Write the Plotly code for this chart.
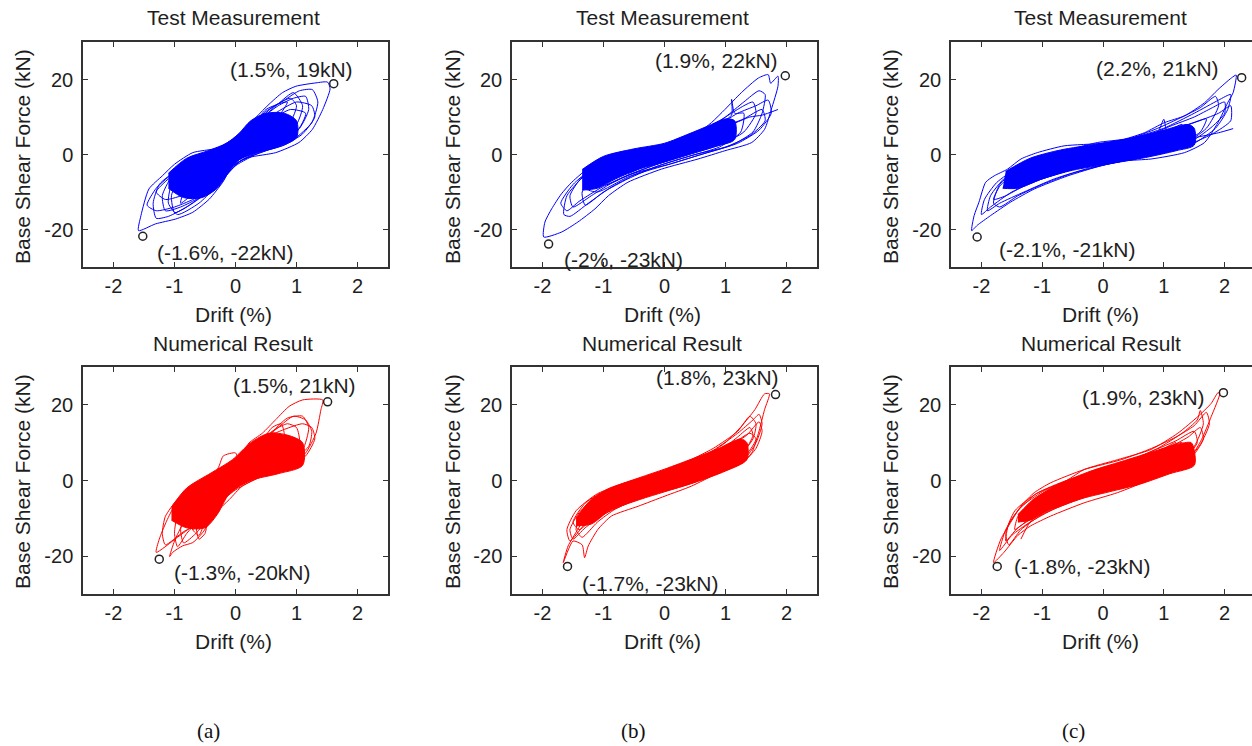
import plotly.graph_objects as go

W, H = 1252, 746

# ------------------------------------------------------------------ data
# Hysteresis paths (drift %, base shear kN)
a_test_path = [(0,0),(0.25,3.5),(0.45,6.5),(0.35,3),(0.1,-0.5),(-0.2,-3.5),(-0.45,-7),(-0.35,-3),(-0.1,0.5),
    (0.2,4),(0.55,9),(0.7,10.5),(0.55,5),(0.2,0.5),(-0.15,-3),(-0.5,-8),(-0.8,-11),(-0.7,-6),(-0.4,-1.5),(-0.05,2),
    (0.3,8),(0.6,12.5),(0.9,15),(1.0,13),(0.85,7),(0.5,2),(0.1,-1.5),(-0.25,-6),(-0.55,-11),(-0.85,-14.5),(-1.0,-15.5),(-1.05,-11),(-0.9,-5.5),(-0.6,-1),(-0.2,2.5),
    (0.11,5.8),(0.33,9.8),(0.55,13.4),(0.77,16.5),(0.99,18.2),(1.32,19.1),(1.51,19.3),(1.55,17.5),(1.43,12),(1.26,6.7),(1.04,3.2),(0.66,0.5),(0.22,-0.8),(-0.05,-3),(-0.21,-7.4),(-0.43,-11.9),(-0.7,-15.4),(-0.98,-17.2),(-1.31,-18.5),(-1.59,-20.3),(-1.55,-16.3),(-1.42,-9.2),(-1.2,-5.7),(-1.0,-2.6),(-0.7,0.5),(-0.32,1.6),(-0.1,3.2),
    (0.2,7),(0.5,11.5),(0.8,14.5),(1.05,17),(1.26,17.3),(1.35,14),(1.25,8.5),(0.95,4),(0.5,1),(0.1,-1.5),(-0.15,-5.5),(-0.45,-10),(-0.75,-13.5),(-1.1,-16.5),(-1.3,-17),(-1.35,-13),(-1.25,-8),(-0.95,-4),(-0.6,-0.5),(-0.2,2),
    (0.15,6),(0.45,10),(0.7,13),(0.95,15),(1.15,15.5),(1.2,12),(1.05,7),(0.7,3),(0.3,0),(0,-2.5),(-0.3,-7),(-0.6,-11.5),(-0.9,-14),(-1.15,-15),(-1.2,-11),(-1.05,-6),(-0.75,-2),(-0.4,0.5),(0,1),
    (0.3,6),(0.6,9.5),(0.85,10.5),(0.8,6),(0.5,2),(0.1,-1),(-0.3,-6),(-0.6,-10),(-0.75,-9),(-0.6,-4),(-0.2,0),(0,0)]
a_test_extra = [(0,0),(0.4,9),(0.7,13.5),(0.95,16.5),(1.1,13),(1.0,8),(0.7,4),(0.3,1),(-0.05,-2),(-0.35,-9),(-0.6,-13),(-0.95,-16),(-1.1,-13),(-1.05,-8),(-0.8,-3),(-0.4,0.5),(0,2.5),
    (0.3,7),(0.65,11),(1.0,14),(1.25,13),(1.3,10),(1.1,5.5),(0.8,2.5),(0.4,0.5),(0,-3),(-0.3,-8),(-0.7,-12),(-1.0,-14),(-1.3,-15),(-1.45,-13.5),(-1.3,-9),(-1.1,-6),(-0.85,-3),(-0.5,-0.5),(-0.1,2),
    (0.25,6.5),(0.55,9),(0.9,12),(1.15,11),(1.0,6),(0.6,3),(0.2,0),(-0.1,-3),(-0.4,-7.5),(-0.8,-10.5),(-1.15,-12),(-1.3,-10),(-1.1,-6.5),(-0.7,-2),(-0.3,1),(0,1.5),
    (0.5,12),(0.85,14),(0.7,10),(0.4,5),(0.1,2),(-0.3,-3),(-0.6,-9),(-0.9,-13),(-0.8,-8),(-0.5,-3),(0,0)]
a_test_core = [(-1.1,-5),(-0.8,-1),(-0.45,1),(-0.15,3),(0.05,5.5),(0.25,9),(0.5,11),(0.8,11),(1.0,9),
    (1.0,4.5),(0.7,2),(0.35,0.5),(0.05,-1.5),(-0.1,-4.5),(-0.3,-9),(-0.55,-11.5),(-0.85,-11.5),(-1.1,-9)]

b_test_path = [(0,0),(0.3,2),(0.6,4.5),(0.45,1.5),(0.1,-1),(-0.3,-3),(-0.6,-5),(-0.45,-2),(-0.1,0.5),
    (0.3,3),(0.7,6.5),(0.95,9),(0.85,4.5),(0.4,0.5),(-0.1,-2.5),(-0.6,-5.5),(-0.95,-8),(-1.0,-5),(-0.7,-1),(-0.2,1.5),
    (0.4,4),(0.8,7.5),(1.1,10.5),(1.1,14.7),(1.15,11),(1.3,11),(1.25,6),(0.9,2),(0.4,-0.5),(-0.1,-3),(-0.6,-6.5),(-1.0,-10),(-1.3,-13.5),(-1.35,-10),(-1.1,-5),(-0.7,-1),(-0.2,1.5),
    (0.22,3.2),(0.55,5.8),(0.77,8.5),(0.99,12),(1.26,16.5),(1.54,20.4),(1.70,21.3),(1.74,19),(1.86,20.9),(1.86,18.2),(1.75,12),(1.64,6.7),(1.43,3.2),(0.99,1),(0.55,-1.2),(-0.05,-3.9),(-0.6,-7.4),(-0.92,-11),(-1.14,-14.5),(-1.42,-18),(-1.69,-20.7),(-1.98,-22),(-1.96,-18),(-1.85,-14.5),(-1.69,-10.5),(-1.52,-7.4),(-1.2,-3),(-0.87,-0.35),(-0.32,1.4),
    (0.3,3.5),(0.7,6.5),(1.0,10),(1.3,14),(1.55,17),(1.65,16),(1.6,11),(1.45,6),(1.1,2.5),(0.6,0),(0.1,-2.5),(-0.5,-5.5),(-0.9,-9),(-1.25,-13),(-1.55,-16.5),(-1.65,-16),(-1.6,-11),(-1.3,-5.5),(-0.9,-2),(-0.4,0.5),
    (0.2,2.5),(0.7,5.5),(1.1,8),(1.4,10),(1.6,10.5),(1.86,12)]
b_test_extra = [(0,0),(0.5,5),(1.0,10),(1.3,13),(1.45,14),(1.5,11),(1.3,6),(0.9,2.5),(0.4,0),(-0.2,-3),(-0.8,-7),(-1.2,-11),(-1.5,-14),(-1.55,-11),(-1.35,-6),(-0.9,-2),(-0.3,1),
    (0.3,3.5),(0.8,7),(1.2,11),(1.5,13),(1.7,14.5),(1.75,11),(1.55,6.5),(1.2,3),(0.7,0.5),(0.1,-2.5),(-0.5,-5),(-1.0,-8.5),(-1.4,-12.5),(-1.6,-15),(-1.7,-13),(-1.5,-8),(-1.2,-4),(-0.7,-0.5),(-0.1,1.5),
    (0.4,3.5),(0.9,7),(1.3,9.5),(1.6,12),(1.65,9),(1.4,5),(1.0,2),(0.5,0),(0,-2.5),(-0.6,-6),(-1.1,-10),(-1.3,-9),(-1.1,-5),(-0.6,-1),(0,1)]
b_test_core = [(-1.35,-4),(-1.0,-0.5),(-0.5,1.5),(0,3),(0.4,5.5),(0.7,7.5),(1.0,9.5),(1.15,9),
    (1.15,4),(0.8,2),(0.4,0),(0,-2),(-0.4,-3.8),(-0.8,-6.5),(-1.1,-9),(-1.35,-9.5)]

c_test_path = [(0,0),(0.4,2),(0.8,4),(0.6,1.5),(0.1,-1),(-0.4,-2.5),(-0.8,-4),(-0.6,-1.5),(-0.1,1),
    (0.4,3),(0.9,6),(1.0,9.4),(1.05,6.5),(1.3,8),(1.2,3.5),(0.7,0),(0.1,-2),(-0.5,-4),(-1.0,-6.5),(-1.3,-8),(-1.25,-4.5),(-0.9,-1),(-0.3,1.5),
    (0.4,4),(0.9,7),(1.3,10),(1.6,12.5),(1.85,15.5),(1.9,13),(1.7,7),(1.3,2.5),(0.7,-0.5),(0.1,-2.5),(-0.5,-5),(-1.0,-8),(-1.4,-11),(-1.7,-14),(-1.8,-13),(-1.7,-8),(-1.45,-4.5),(-1.1,-1.5),(-0.5,1.5),
    (-0.09,3.2),(0.35,4.1),(0.68,5.8),(1.01,8.5),(1.34,10.3),(1.67,13.8),(1.89,17.3),(2.11,20.4),(2.19,21.2),(2.14,16.5),(2.05,13.8),(1.89,8.5),(1.67,3.2),(1.34,0.5),(0.79,-1.2),(0.35,-1.7),(-0.03,-3),(-0.58,-5.7),(-1.13,-9.2),(-1.52,-12.7),(-1.85,-16.3),(-2.07,-18.9),(-2.16,-20.3),(-2.12,-16.3),(-2.04,-12.7),(-1.93,-7.4),(-1.79,-5.7),(-1.57,-3.9),(-1.35,-1.2),(-1.08,0.5),(-0.64,2.3),
    (0.0,3),(0.5,4.5),(1.0,7),(1.5,11),(1.9,14.5),(2.1,16),(2.05,12),(1.85,7),(1.5,3),(1.0,0.5),(0.4,-1.5),(-0.2,-3.5),(-0.8,-6.5),(-1.3,-10),(-1.7,-13),(-1.9,-15),(-1.85,-11),(-1.6,-6),(-1.2,-2.5),(-0.6,1),
    (0.0,2),(0.6,2.5),(1.1,3.5),(1.5,4.5),(1.9,5.8),(2.14,6.9)]
c_test_extra = [(0,0),(0.6,4),(1.1,7.5),(1.5,10),(1.8,12.5),(2.0,14),(2.0,11),(1.8,7.5),(1.5,4),(1.0,1.5),(0.3,-1.5),(-0.4,-3.5),(-1.0,-6.5),(-1.5,-10),(-1.85,-14),(-2.0,-16),(-1.95,-12),(-1.75,-7.5),(-1.4,-3.5),(-0.9,-0.5),(-0.3,1.5),
    (0.4,3.5),(1.0,6),(1.5,8.5),(1.9,11),(2.1,13),(2.1,9),(1.8,5.5),(1.3,2),(0.7,0),(0,-2),(-0.7,-4.5),(-1.2,-7.5),(-1.6,-11),(-1.8,-12),(-1.7,-8.5),(-1.5,-5.5),(-1.0,-2),(-0.4,1),
    (0.3,3),(0.9,5.5),(1.4,8),(1.7,9.5),(1.6,6),(1.2,2.5),(0.6,0),(0,-1.5),(-0.6,-4),(-1.2,-7),(-1.5,-8),(-1.3,-4.5),(-0.8,-1),(0,1)]
c_test_core = [(-1.6,-4.5),(-1.2,-1),(-0.7,1.2),(-0.1,2.8),(0.5,4.5),(1.0,6.5),(1.4,8),(1.5,7),
    (1.5,2.5),(1.2,1),(0.7,-0.8),(0.1,-2.5),(-0.5,-4.2),(-1.0,-6.5),(-1.4,-9),(-1.65,-9)]

a_num_path = [(0,0),(0.25,3.5),(0.5,6.5),(0.35,2.5),(0.05,-1),(-0.25,-4.5),(-0.45,-8),(-0.35,-4),(-0.05,0.5),
    (0.2,5),(0.5,9),(0.75,11),(0.7,6),(0.4,2),(0,-1.5),(-0.3,-6),(-0.5,-11),(-0.6,-14.5),(-0.7,-13),(-0.65,-8),(-0.45,-3),(-0.1,1.5),
    (0.2,7),(0.55,12),(0.85,16.5),(1.1,17),(1.2,14),(1.1,8),(0.8,3.5),(0.4,1),(0,-2.5),(-0.35,-7),(-0.6,-10.5),(-0.8,-14),(-0.95,-17.5),(-1.0,-14),(-0.95,-9),(-0.75,-4),(-0.4,0),(-0.27,3.8),
    (-0.2,6.5),(0.0,7.3),(0.05,5.5),(0.22,9.9),(0.44,12.5),(0.66,16.1),(0.88,19.6),(1.10,21.3),(1.43,21.3),(1.40,18.7),(1.32,12.5),(1.15,7.3),(0.88,3.8),(0.44,1.1),(0.11,-1.5),(-0.10,-5),(-0.32,-8.5),(-0.54,-13.8),(-0.70,-16.4),(-0.87,-17.3),(-1.03,-19),(-1.08,-20.1),(-1.0,-16),(-0.85,-11),(-0.6,-5),(-0.3,-1),
    (0.1,6),(0.4,10),(0.7,14),(0.95,17),(1.15,16),(1.25,13),(1.2,9),(0.9,5),(0.5,2),(0.1,-1),(-0.2,-5),(-0.45,-9),(-0.7,-12),(-0.95,-15),(-1.30,-19),(-1.25,-15.5),(-1.14,-11.1),(-1.03,-7.6),(-0.87,-5),(-0.65,-1.5),(-0.43,1.1),(-0.1,4),
    (0.2,8),(0.45,11),(0.6,14),(0.75,15),(0.8,12),(0.7,8),(0.4,3.5),(0,0),(-0.3,-4),(-0.45,-10),(-0.5,-14),(-0.6,-15.5),(-0.65,-11),(-0.55,-6),(-0.3,-1),(0,2)]
a_num_extra = [(0,0),(0.3,8),(0.6,13),(0.85,15),(1.0,14),(1.05,10),(0.85,5.5),(0.5,2.5),(0.1,0),(-0.2,-4),(-0.45,-10),(-0.65,-14),(-0.85,-16.5),(-0.9,-13),(-0.8,-8),(-0.55,-3),(-0.2,2),
    (0.15,7),(0.45,11),(0.8,13.5),(1.1,15),(1.25,14),(1.3,11),(1.15,6.5),(0.8,3),(0.3,0.5),(-0.05,-2.5),(-0.3,-7),(-0.55,-11),(-0.85,-13.5),(-1.15,-17),(-1.2,-14),(-1.15,-9.5),(-0.95,-5),(-0.6,-1),(-0.2,3),
    (0.2,8.5),(0.5,12),(0.65,12.5),(0.6,9),(0.3,4),(0,1),(-0.35,-5),(-0.55,-10),(-0.7,-13),(-0.75,-10),(-0.6,-5),(-0.3,0),(0,2)]
a_num_core = [(-1.05,-7),(-0.8,-2),(-0.4,2),(-0.05,5.5),(0.25,10),(0.55,12.5),(0.85,12),(1.1,10),
    (1.1,4),(0.7,1.8),(0.25,0),(-0.1,-3.5),(-0.3,-9),(-0.5,-12.5),(-0.8,-12.5),(-1.05,-10.5)]

b_num_path = [(0,0),(0.4,3),(0.8,6),(0.6,2.5),(0.2,-0.5),(-0.3,-3),(-0.7,-5.5),(-0.55,-2.5),(-0.1,0.5),
    (0.4,4),(0.8,7.5),(1.1,10),(1.05,6),(0.7,2.5),(0.2,-1),(-0.3,-3.5),(-0.8,-6.5),(-1.1,-9),(-1.05,-5.5),(-0.7,-1.5),(-0.2,1.5),
    (0.3,4.5),(0.8,8.5),(1.2,13),(1.4,17),(1.5,15),(1.45,11),(1.2,6),(0.8,2.5),(0.3,-1),(-0.3,-4),(-0.8,-7.5),(-1.1,-11),(-1.35,-15),(-1.45,-13),(-1.3,-7),(-1.0,-3),(-0.5,0),
    (-0.21,1.1),(0.22,3.8),(0.66,6.4),(0.99,9.9),(1.26,14.3),(1.48,18.7),(1.64,22.9),(1.72,22.9),(1.64,18.7),(1.54,12.5),(1.43,7.3),(1.26,4.6),(0.88,2),(0.44,-1.5),(0.01,-4.1),(-0.43,-6.8),(-0.87,-9.4),(-1.09,-12.9),(-1.25,-17.3),(-1.31,-20.4),(-1.35,-17),(-1.5,-16),(-1.66,-21.7),(-1.58,-17.3),(-1.42,-12.9),(-1.25,-8.5),(-0.98,-4.1),(-0.65,-1.5),(-0.21,1.1),
    (0.3,4),(0.8,8),(1.2,12.5),(1.45,16),(1.55,17.5),(1.6,15),(1.5,10),(1.3,5.5),(0.9,2.5),(0.4,-0.5),(-0.1,-3),(-0.6,-6),(-1.0,-9),(-1.3,-12.5),(-1.5,-15.5),(-1.55,-13),(-1.4,-8.5),(-1.1,-4),(-0.7,-1),(-0.2,1.5),
    (0.3,4),(0.7,6.5),(1.0,9),(1.2,11.5),(1.4,14),(1.45,12),(1.3,7.5),(1.0,4),(0.6,1),(0,-2),(-0.6,-5),(-1.0,-7.5),(-1.2,-9.5),(-1.15,-6),(-0.8,-2.5),(-0.3,0.5),(0,1)]
b_num_extra = [(0,0),(0.5,4.5),(1.0,8.5),(1.35,12),(1.55,15.5),(1.6,13),(1.5,8.5),(1.3,5),(0.9,2),(0.3,-1.5),(-0.3,-4),(-0.9,-7.5),(-1.3,-11.5),(-1.55,-16),(-1.6,-13),(-1.45,-8),(-1.1,-3.5),(-0.5,0),
    (0.2,2.5),(0.7,6),(1.1,9.5),(1.4,12.5),(1.5,11),(1.35,7),(1.05,3.5),(0.5,0),(0,-2.5),(-0.6,-5.5),(-1.1,-9),(-1.4,-13),(-1.5,-11),(-1.3,-6),(-0.9,-2),(-0.3,1),
    (0.4,4),(0.9,7.5),(1.2,10),(1.25,8),(0.95,4),(0.5,1),(0,-1.5),(-0.5,-4.5),(-1.0,-7.5),(-1.25,-10),(-1.2,-7),(-0.8,-2.5),(0,1)]
b_num_core = [(-1.45,-10),(-1.2,-5),(-0.8,-1.5),(-0.4,0.8),(0,3),(0.5,6),(0.9,8.5),(1.25,11),(1.35,10),
    (1.35,5.5),(1.0,2.5),(0.5,-0.5),(0,-3),(-0.4,-5),(-0.9,-8),(-1.2,-11.5),(-1.45,-12)]

c_num_path = [(0,0),(0.4,3),(0.8,5.5),(0.65,2.5),(0.2,-0.5),(-0.4,-3),(-0.8,-5.5),(-0.65,-2.5),(-0.1,0.5),
    (0.4,4),(0.9,7.5),(1.2,10),(1.15,6),(0.8,2),(0.2,-1.5),(-0.4,-4),(-0.9,-7),(-1.2,-10),(-1.15,-6),(-0.8,-2),(-0.2,1.5),
    (0.4,5),(0.9,8.5),(1.3,12.5),(1.55,16),(1.6,18.5),(1.65,15),(1.5,9),(1.2,4.5),(0.7,1),(0.1,-2),(-0.5,-5.5),(-1.0,-9),(-1.35,-13),(-1.55,-17),(-1.6,-14),(-1.45,-8),(-1.1,-3.5),(-0.6,0),(-0.31,2.9),
    (0.24,5.5),(0.79,8.2),(1.23,12.5),(1.56,16.9),(1.78,20.4),(1.89,23.2),(1.92,23),(1.78,16.9),(1.62,10.8),(1.45,6.4),(1.18,2.9),(0.79,0.3),(0.24,-3.2),(-0.31,-5.9),(-0.86,-9.4),(-1.19,-12),(-1.40,-14.5),(-1.63,-19),(-1.80,-21.7),(-1.68,-15.5),(-1.52,-11.1),(-1.35,-6.8),(-1.13,-3.2),(-0.86,-0.6),(-0.31,2.9),
    (0.3,5.5),(0.8,8.5),(1.2,11.5),(1.5,14.5),(1.7,18),(1.75,15),(1.6,9.5),(1.35,5),(0.9,1.5),(0.3,-1.5),(-0.3,-4.5),(-0.8,-7.5),(-1.2,-11),(-1.5,-14.5),(-1.7,-18.5),(-1.6,-13),(-1.4,-8),(-1.1,-3.5),(-0.6,0),(0,2.5),
    (-0.4,-3),(-0.9,-7),(-1.2,-11),(-1.35,-15.5)]
c_num_extra = [(0,0),(0.5,4.5),(1.0,8),(1.4,11.5),(1.6,14),(1.65,11),(1.5,7),(1.2,3.5),(0.7,0.5),(0.1,-2.5),(-0.5,-5),(-1.0,-8.5),(-1.4,-12.5),(-1.6,-16),(-1.55,-11.5),(-1.35,-7),(-1.0,-3),(-0.5,0.5),
    (0.2,3.5),(0.7,7),(1.2,10.5),(1.5,13),(1.55,10),(1.35,6),(0.95,2.5),(0.4,-0.5),(-0.2,-3.5),(-0.8,-6.5),(-1.2,-10),(-1.45,-13),(-1.4,-9.5),(-1.15,-5),(-0.7,-1),(0,2),
    (0.5,5),(1.0,8.5),(1.3,10),(1.2,6.5),(0.8,3),(0.3,0),(-0.3,-3),(-0.9,-7),(-1.2,-9),(-1.1,-6),(-0.6,-1.5),(0,1)]
c_num_core = [(-1.4,-9),(-1.1,-4.5),(-0.7,-0.8),(-0.2,2.5),(0.3,5),(0.8,7.5),(1.2,9.5),(1.45,10),(1.5,8),
    (1.5,4),(1.1,1.8),(0.6,-1),(0.1,-3),(-0.4,-5),(-0.9,-8),(-1.2,-10.5),(-1.4,-11)]

# peak markers (drift, force) and their labels
a_test_peaks = [(1.61, 18.9), (-1.52, -21.8)]
b_test_peaks = [(1.98, 21.0), (-1.90, -23.9)]
c_test_peaks = [(2.28, 20.5), (-2.07, -22.0)]
a_num_peaks = [(1.51, 20.8), (-1.25, -20.8)]
b_num_peaks = [(1.82, 22.7), (-1.59, -22.7)]
c_num_peaks = [(1.98, 23.2), (-1.74, -22.7)]

a_test_labels = ["(1.5%, 19kN)", "(-1.6%, -22kN)"]
b_test_labels = ["(1.9%, 22kN)", "(-2%, -23kN)"]
c_test_labels = ["(2.2%, 21kN)", "(-2.1%, -21kN)"]
a_num_labels = ["(1.5%, 21kN)", "(-1.3%, -20kN)"]
b_num_labels = ["(1.8%, 23kN)", "(-1.7%, -23kN)"]
c_num_labels = ["(1.9%, 23kN)", "(-1.8%, -23kN)"]

x_ticks = [-2, -1, 0, 1, 2]
x_tick_text = ["-2", "-1", "0", "1", "2"]
y_ticks = [-20, 0, 20]
y_tick_text = ["-20", "0", "20"]
row_titles = ["Test Measurement", "Numerical Result"]
x_title = "Drift (%)"
y_title = "Base Shear Force (kN)"
captions = ["(a)", "(b)", "(c)"]

# ------------------------------------------------------------------ layout spec
BLUE, RED = "#0000FF", "#FF0000"
TXT = "#1e1e1e"
SANS = "Liberation Sans, Arial, sans-serif"

panels = [
    (a_test_path, a_test_extra, a_test_core, a_test_peaks, a_test_labels, BLUE, (83, 42, 388, 267), [-2.5, 2.5], [(0.92, 22.6), (-0.16, -26.2)]),
    (b_test_path, b_test_extra, b_test_core, b_test_peaks, b_test_labels, BLUE, (512, 42, 817, 267), [-2.5, 2.5], [(0.85, 25.2), (-0.67, -27.9)]),
    (c_test_path, c_test_extra, c_test_core, c_test_peaks, c_test_labels, BLUE, (951, 42, 1252, 267), [-2.5, 2.45], [(0.89, 23.0), (-0.59, -25.4)]),
    (a_num_path, a_num_extra, a_num_core, a_num_peaks, a_num_labels, RED, (83, 367, 388, 594), [-2.5, 2.5], [(0.96, 25.1), (0.11, -24.3)]),
    (b_num_path, b_num_extra, b_num_core, b_num_peaks, b_num_labels, RED, (512, 367, 817, 594), [-2.5, 2.5], [(0.87, 27.2), (-0.23, -27.2)]),
    (c_num_path, c_num_extra, c_num_core, c_num_peaks, c_num_labels, RED, (951, 367, 1252, 594), [-2.5, 2.45], [(0.66, 21.9), (-0.34, -22.8)]),
]

fig = go.Figure()
layout = dict(width=W, height=H, margin=dict(l=0, r=0, t=0, b=0),
              paper_bgcolor="white", plot_bgcolor="white", showlegend=False)
annotations = []

def px(x, y):
    return x / W, 1 - y / H

for i, (path, extra, core, peaks, labels, color, box, xr, lpos) in enumerate(panels):
    n = i + 1
    xa = "x" if n == 1 else f"x{n}"
    ya = "y" if n == 1 else f"y{n}"
    l, t, r, b = box
    last_col = (i % 3 == 2)
    layout["xaxis" if n == 1 else f"xaxis{n}"] = dict(
        domain=[l / W, min(r / W, 1.0)], range=xr, anchor=ya,
        tickvals=x_ticks, ticktext=x_tick_text, ticks="inside", ticklen=5, tickwidth=1, tickcolor="#333",
        showline=True, linecolor="#333", linewidth=1.5, mirror="allticks",
        showgrid=False, zeroline=False, ticklabelstandoff=0,
        tickfont=dict(family=SANS, size=20, color=TXT))
    layout["yaxis" if n == 1 else f"yaxis{n}"] = dict(
        domain=[1 - b / H, 1 - t / H], range=[-30, 30], anchor=xa,
        tickvals=y_ticks, ticktext=y_tick_text, ticks="inside", ticklen=5, tickwidth=1, tickcolor="#333",
        showline=True, linecolor="#333", linewidth=1.5,
        mirror=False if last_col else "allticks",
        showgrid=False, zeroline=False, ticklabelstandoff=4,
        tickfont=dict(family=SANS, size=20, color=TXT))

    fig.add_trace(go.Scatter(x=[p[0] for p in core], y=[p[1] for p in core],
                             mode="lines", fill="toself", fillcolor=color,
                             line=dict(color=color, width=1, shape="spline", smoothing=0.8),
                             xaxis=xa, yaxis=ya, hoverinfo="skip"))
    for seq in (extra, path):
        fig.add_trace(go.Scatter(x=[p[0] for p in seq], y=[p[1] for p in seq],
                                 mode="lines",
                                 line=dict(color=color, width=1, shape="spline", smoothing=0.6),
                                 xaxis=xa, yaxis=ya))
    fig.add_trace(go.Scatter(x=[p[0] for p in peaks], y=[p[1] for p in peaks],
                             mode="markers",
                             marker=dict(symbol="circle-open", size=8, color="#222",
                                         line=dict(width=1.5, color="#222")),
                             xaxis=xa, yaxis=ya, cliponaxis=False))
    for txt, (lx, ly) in zip(labels, lpos):
        annotations.append(dict(text=txt, x=lx, y=ly, xref=xa, yref=ya,
                                showarrow=False, xanchor="center", yanchor="middle",
                                font=dict(family=SANS, size=21, color=TXT)))

col_cx = [233, 662, 1100.5]
for row, (ty, xty, yty) in enumerate([(17, 314, 157), (343, 641, 482)]):
    for col in range(3):
        x, y = px(col_cx[col], ty)
        annotations.append(dict(text=row_titles[row], x=x, y=y, xref="paper", yref="paper",
                                showarrow=False, xanchor="center", yanchor="middle",
                                font=dict(family=SANS, size=21, color=TXT)))
        x, y = px(col_cx[col], xty)
        annotations.append(dict(text=x_title, x=x, y=y, xref="paper", yref="paper",
                                showarrow=False, xanchor="center", yanchor="middle",
                                font=dict(family=SANS, size=21, color=TXT)))
        x, y = px([22, 452, 890][col], yty)
        annotations.append(dict(text=y_title, x=x, y=y, xref="paper", yref="paper",
                                showarrow=False, xanchor="center", yanchor="middle",
                                textangle=-90,
                                font=dict(family=SANS, size=21, color=TXT)))

for cap, cx in zip(captions, [208, 633, 1073]):
    x, y = px(cx, 731)
    annotations.append(dict(text=cap, x=x, y=y, xref="paper", yref="paper",
                            showarrow=False, xanchor="center", yanchor="middle",
                            font=dict(family="Liberation Serif, Times New Roman, serif",
                                      size=21, color="#111")))

layout["annotations"] = annotations
fig.update_layout(**layout)
fig.write_html("out.html")
